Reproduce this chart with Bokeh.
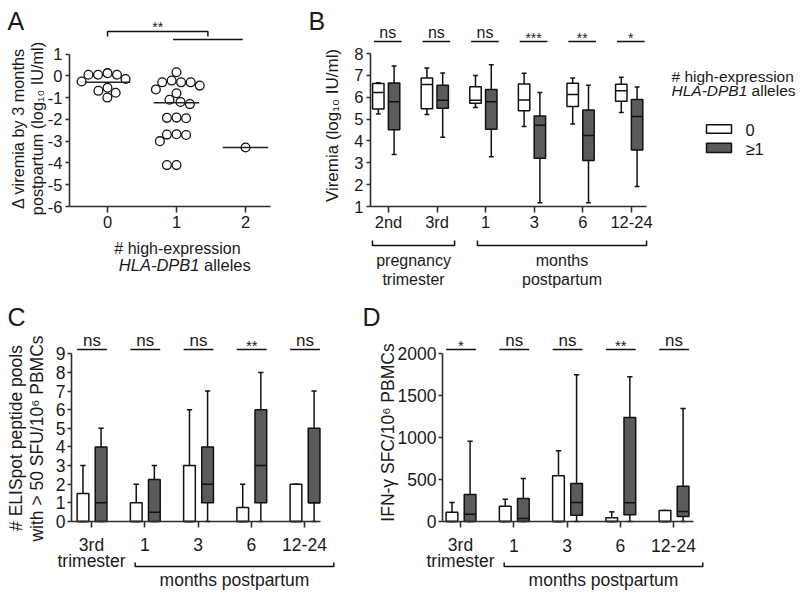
import math
from bokeh.plotting import figure
from bokeh.models import Range1d, LinearAxis, FixedTicker, ColumnDataSource
from bokeh.layouts import row, column
from bokeh.embed import file_html
from bokeh.resources import INLINE
from bokeh.core.properties import value

# ---------------- data ----------------
# Panel A: change in viremia by 3 months postpartum
A_groups = [0, 1, 2]
A_group_labels = ["0", "1", "2"]
A_vals_0 = [0.05, 0.05, -0.26, -0.69, -1.00, -0.78, -0.15, 0.05, 0.12, -0.55]
A_vals_1 = [0.16, -0.30, -0.30, -0.22, -0.30, -0.45, -0.63, -0.80, -1.20, -1.30,
            -1.10, -1.92, -1.95, -1.93, -2.68, -2.72, -3.00, -2.70, -4.10, -4.10]
A_vals_2 = [-3.29]
A_center = [-0.30, -1.24, -3.29]
A_yticks = [1, 0, -1, -2, -3, -4, -5, -6]
A_sig = "**"

# Panel B: viremia (log10 IU/ml)
B_cats = ["2nd", "3rd", "1", "3", "6", "12-24"]
B_sig = ["ns", "ns", "ns", "***", "**", "*"]
B0_min = [5.23, 5.21, 5.53, 4.66, 4.77, 5.30]
B0_q1 = [5.46, 5.47, 5.72, 5.38, 5.58, 5.81]
B0_med = [6.21, 6.58, 5.86, 5.87, 6.12, 6.30]
B0_q3 = [6.63, 6.88, 6.48, 6.61, 6.64, 6.59]
B0_max = [6.66, 7.34, 6.99, 7.10, 6.88, 6.91]
B1_min = [3.38, 4.17, 3.28, 1.17, 1.17, 1.92]
B1_q1 = [4.51, 5.49, 4.54, 3.21, 3.11, 3.59]
B1_med = [5.79, 5.86, 5.79, 4.72, 4.25, 5.12]
B1_q3 = [6.65, 6.55, 6.35, 5.14, 5.41, 5.89]
B1_max = [7.43, 7.11, 7.49, 6.21, 6.55, 6.47]
B_yticks = [1, 2, 3, 4, 5, 6, 7, 8]
legend_labels = ["0", "\u22651"]

# Panel C: ELISpot peptide pools
C_cats = ["3rd", "1", "3", "6", "12-24"]
C_sig = ["ns", "ns", "ns", "**", "ns"]
C0_min = [0, 0, 0, 0, 0]
C0_q1 = [0, 0, 0, 0, 0]
C0_med = [0, 0, 0, 0, 0]
C0_q3 = [1.5, 1, 3, 0.75, 2]
C0_max = [3, 2, 6, 2, 2]
C1_min = [0, 0, 0, 0, 0]
C1_q1 = [0, 0, 1, 1, 1]
C1_med = [1, 0.5, 2, 3, 1]
C1_q3 = [4, 2.25, 4, 6, 5]
C1_max = [5, 3, 7, 8, 7]
C_yticks = [0, 1, 2, 3, 4, 5, 6, 7, 8, 9]

# Panel D: IFN-gamma SFC
D_cats = ["3rd", "1", "3", "6", "12-24"]
D_sig = ["*", "ns", "ns", "**", "ns"]
D0_min = [0, 0, 0, 0, 0]
D0_q1 = [0, 0, 0, 0, 0]
D0_med = [0, 0, 0, 0, 0]
D0_q3 = [111, 183, 545, 44, 131]
D0_max = [227, 266, 843, 115, 131]
D1_min = [0, 0, 0, 0, 0]
D1_q1 = [0, 0, 76, 80, 60]
D1_med = [87, 36, 227, 223, 119]
D1_q3 = [322, 274, 453, 1240, 421]
D1_max = [958, 513, 1749, 1726, 1348]
D_yticks = [0, 500, 1000, 1500, 2000]

# ---------------- style ----------------
FONT = "Liberation Sans"
TXT = "#1a1a1a"
AX = "#2e2e2e"
DARK = "#5b5b5b"
TOP_FS = 16.0     # text size, upper panels
BOT_FS = 17.5     # text size, lower panels
LEG_FS = 15.5

CHAR_W = {'H': .722, 'L': .556, 'A': .667, '-': .333, 'D': .722, 'P': .667,
          'B': .667, '1': .556, ' ': .278}


def text_w(s, size):
    return sum(CHAR_W.get(c, .556) for c in s) * size


def lin_map(v0, p0, v1, p1):
    s = (v1 - v0) / (p1 - p0)
    return lambda p: v0 + (p - p0) * s


def panel(ox, oy, w, h, xanch, yanch):
    fx = lin_map(*xanch)
    fy = lin_map(*yanch)
    p = figure(width=w, height=h,
               x_range=Range1d(fx(ox), fx(ox + w)),
               y_range=Range1d(fy(oy + h), fy(oy)),
               x_axis_type=None, y_axis_type=None,
               toolbar_location=None, output_backend="svg",
               title=None, min_border=0)
    p.extra_x_ranges = {"px": Range1d(ox, ox + w)}
    p.extra_y_ranges = {"px": Range1d(oy + h, oy)}
    p.outline_line_color = None
    p.background_fill_color = "white"
    p.border_fill_color = "white"
    return p, fx, fy


def style_axis(ax, tick_out, standoff, fs):
    ax.axis_line_color = AX
    ax.axis_line_width = 1.6
    ax.major_tick_line_color = AX
    ax.major_tick_line_width = 1.6
    ax.major_tick_out = tick_out
    ax.major_tick_in = 0
    ax.minor_tick_line_color = None
    ax.major_label_text_font = FONT
    ax.major_label_text_font_size = "%gpx" % fs
    ax.major_label_text_color = TXT
    ax.major_label_standoff = standoff


def txt(p, x, y, s, size=TOP_FS, align="center", baseline="alphabetic", angle=0.0,
        style="normal", xr="px"):
    kw = dict(y_range_name="px")
    if xr == "px":
        kw["x_range_name"] = "px"
    if baseline == "alphabetic":
        y = y - 0.32 * size   # compensate renderer's baseline placement
    p.text(x=[x], y=[y], text=[s], text_font=value(FONT),
           text_font_size="%gpx" % size,
           text_align=align, text_baseline=baseline, angle=angle,
           text_color=TXT, text_font_style=style, **kw)


def add_axes(p, fx, yticks, ylabels, y_axis_px, x_end_px, xticks, xlabels,
             ystand, xlabel_base, fs):
    ylo, yhi = min(yticks), max(yticks)
    ya = LinearAxis(fixed_location=fx(y_axis_px), bounds=(ylo, yhi),
                    ticker=FixedTicker(ticks=yticks),
                    major_label_overrides={t: l for t, l in zip(yticks, ylabels)})
    style_axis(ya, 4, ystand, fs)
    p.add_layout(ya, "left")
    xa = LinearAxis(fixed_location=ylo, bounds=(fx(y_axis_px), fx(x_end_px)),
                    ticker=FixedTicker(ticks=xticks),
                    major_label_overrides={t: "" for t in xticks})
    style_axis(xa, 6, 2, fs)
    p.add_layout(xa, "below")
    # category labels, placed through the data scale under each tick
    for t, l in zip(xticks, xlabels):
        txt(p, t, xlabel_base, l, size=fs, xr="data")


def boxes(p, xs, mn, q1, med, q3, mx, fill, width, cap):
    src = ColumnDataSource(dict(
        x=xs, l=[x - width / 2 for x in xs], r=[x + width / 2 for x in xs],
        cl=[x - cap / 2 for x in xs], cr=[x + cap / 2 for x in xs],
        mn=mn, q1=q1, med=med, q3=q3, mx=mx))
    lk = dict(line_color="#111111", line_width=1.5)
    p.segment(x0="x", y0="q3", x1="x", y1="mx", source=src, **lk)
    p.segment(x0="x", y0="mn", x1="x", y1="q1", source=src, **lk)
    p.segment(x0="cl", y0="mx", x1="cr", y1="mx", source=src, **lk)
    p.segment(x0="cl", y0="mn", x1="cr", y1="mn", source=src, **lk)
    p.quad(left="l", right="r", bottom="q1", top="q3", source=src,
           fill_color=fill, **lk)
    p.segment(x0="l", y0="med", x1="r", y1="med", source=src, **lk)


def sig_marks(p, xs, labels, y_line, lpad, rpad, fs, star_fs):
    p.segment(x0=[x - lpad for x in xs], y0=[y_line] * len(xs),
              x1=[x + rpad for x in xs], y1=[y_line] * len(xs),
              y_range_name="px", line_color="#111111", line_width=1.5)
    for x, s in zip(xs, labels):
        xm = x + (rpad - lpad) / 2
        if set(s) == {"*"}:
            txt(p, xm, y_line + 0.5, s, size=star_fs, xr="data")
        else:
            txt(p, xm, y_line - 4, s, size=fs, xr="data")


def group_bracket(p, x0, x1, y, tick):
    p.multi_line(xs=[[x0, x0, x1, x1]], ys=[[y - tick, y, y, y - tick]],
                 y_range_name="px", line_color="#111111", line_width=1.5)


def swarm(vals, ypx, xpx, d=9.6):
    order = sorted(range(len(vals)), key=lambda i: -vals[i])
    placed = []
    offs = [0.0] * len(vals)
    for i in order:
        y = vals[i] * ypx
        cands = [0.0]
        for xo, yo in placed:
            dy = abs(y - yo)
            if dy < d:
                dx = math.sqrt(d * d - dy * dy)
                cands += [xo + dx, xo - dx]
        cands.sort(key=lambda c: (round(abs(c), 6), c))
        chosen = 0.0
        for c in cands:
            if all((c - xo) ** 2 + (y - yo) ** 2 >= d * d - 1e-6 for xo, yo in placed):
                chosen = c
                break
        placed.append((chosen, y))
        offs[i] = chosen
    return [o / xpx for o in offs]


# ---------------- Panel A ----------------
pA, fxA, fyA = panel(0, 0, 300, 292, (0, 107, 2, 245), (1, 53.5, -6, 206))
add_axes(pA, fxA, A_yticks, [str(t) for t in A_yticks], 69, 270,
         A_groups, A_group_labels, 3, 227, 16.5)
xpxA = 69.0
ypxA = 152.5 / 7
for g, vals in zip(A_groups, [A_vals_0, A_vals_1, A_vals_2]):
    offs = swarm(vals, ypxA, xpxA)
    pA.scatter(x=[g + o for o in offs], y=vals, size=8.8, fill_color="white",
               line_color="#111111", line_width=1.3)
pA.segment(x0=[g - 0.33 for g in A_groups], y0=A_center,
           x1=[g + 0.33 for g in A_groups], y1=A_center,
           line_color="#222222", line_width=1.5)
l2a, l2b = A_groups[1] - 0.05, A_groups[2] - 0.04
br_r = (l2a + l2b) / 2
group_bracket(pA, A_groups[0], br_r, 31, -5)
pA.segment(x0=[l2a], y0=[39], x1=[l2b], y1=[39], y_range_name="px",
           line_color="#111111", line_width=1.5)
txt(pA, (A_groups[0] + br_r) / 2, 31, A_sig, size=14, xr="data")
txt(pA, 7, 28, "A", size=25, align="left")
txt(pA, 17.5, 128, "\u0394 viremia by 3 months", size=16.3, baseline="middle",
    angle=math.pi / 2)
txt(pA, 36.5, 128, "postpartum (log\u2081\u2080 IU/ml)", size=16.3, baseline="middle",
    angle=math.pi / 2)
txt(pA, 177, 253, "# high-expression")
txt(pA, 199, 270, "HLA-DPB1", size=16.5, align="right", style="italic")
txt(pA, 203.5, 270, "alleles", size=16.5, align="left")

# ---------------- Panel B ----------------
pB, fxB, fyB = panel(300, 0, 500, 292, (0, 388, 5, 631), (8, 53, 1, 206))
B_x = list(range(len(B_cats)))
add_axes(pB, fxB, B_yticks, [str(t) for t in B_yticks], 370, 646,
         B_x, B_cats, 3, 227, 16.5)
boxes(pB, [x - 0.21 for x in B_x], B0_min, B0_q1, B0_med, B0_q3, B0_max,
      "white", 0.235, 0.1)
boxes(pB, [x + 0.115 for x in B_x], B1_min, B1_q1, B1_med, B1_q3, B1_max,
      DARK, 0.235, 0.1)
sig_marks(pB, B_x, B_sig, 41, 0.3, 0.27, 16, 14)
group_bracket(pB, B_x[0] - 0.33, B_x[1] + 0.36, 245, 5)
group_bracket(pB, B_x[2] - 0.17, B_x[5] + 0.31, 245, 5)
mid_preg = (B_x[0] - 0.33 + B_x[1] + 0.36) / 2
mid_months = (B_x[2] - 0.17 + B_x[5] + 0.31) / 2
txt(pB, mid_preg, 265, "pregnancy", xr="data")
txt(pB, mid_preg, 284, "trimester", xr="data")
txt(pB, mid_months, 265, "months", xr="data")
txt(pB, mid_months, 284, "postpartum", xr="data")
txt(pB, 308, 28, "B", size=25, align="left")
txt(pB, 331.5, 125, "Viremia (log\u2081\u2080 IU/ml)", size=17, baseline="middle",
    angle=math.pi / 2)
# legend
txt(pB, 671, 81, "# high-expression", size=LEG_FS, align="left")
txt(pB, 671, 95, "HLA-DPB1", size=LEG_FS, align="left", style="italic")
txt(pB, 671 + text_w("HLA-DPB1 ", LEG_FS), 95, "alleles", size=LEG_FS, align="left")
pB.quad(left=[706, 706], right=[731, 731], top=[124.3, 142.7], bottom=[132.7, 152],
        fill_color=["white", DARK], line_color="#111111", line_width=1.5,
        x_range_name="px", y_range_name="px")
txt(pB, 745, 129, legend_labels[0], size=16.5, align="left", baseline="middle")
txt(pB, 745, 148, legend_labels[1], size=16.5, align="left", baseline="middle")

# ---------------- Panel C ----------------
pC, fxC, fyC = panel(0, 292, 352, 300, (0, 91, 4, 304), (9, 353.3, 0, 521))
C_x = list(range(len(C_cats)))
add_axes(pC, fxC, C_yticks, [str(t) for t in C_yticks], 71, 320,
         C_x, C_cats, 2, 550, BOT_FS)
boxes(pC, [x - 0.16 for x in C_x], C0_min, C0_q1, C0_med, C0_q3, C0_max,
      "white", 0.22, 0.1)
boxes(pC, [x + 0.18 for x in C_x], C1_min, C1_q1, C1_med, C1_q3, C1_max,
      DARK, 0.22, 0.1)
sig_marks(pC, C_x, C_sig, 349, 0.27, 0.29, 17, 15)
txt(pC, C_x[0], 566, "trimester", size=BOT_FS, xr="data")
group_bracket(pC, C_x[1] - 0.18, C_x[4] + 0.55, 566, 4)
txt(pC, (C_x[1] - 0.18 + C_x[4] + 0.55) / 2, 585, "months postpartum", size=BOT_FS,
    xr="data")
txt(pC, 7, 324, "C", size=25, align="left")
txt(pC, 15, 437.5, "# ELISpot peptide pools", size=BOT_FS, baseline="middle",
    angle=math.pi / 2)
txt(pC, 36, 438, "with > 50 SFU/10\u2076 PBMCs", size=BOT_FS, baseline="middle",
    angle=math.pi / 2)

# ---------------- Panel D ----------------
pD, fxD, fyD = panel(352, 292, 448, 300, (0, 460, 4, 673), (2000, 353.3, 0, 521))
D_x = list(range(len(D_cats)))
add_axes(pD, fxD, D_yticks, [str(t) for t in D_yticks], 442, 693,
         D_x, D_cats, 2, 550.5, BOT_FS)
boxes(pD, [x - 0.16 for x in D_x], D0_min, D0_q1, D0_med, D0_q3, D0_max,
      "white", 0.22, 0.1)
boxes(pD, [x + 0.18 for x in D_x], D1_min, D1_q1, D1_med, D1_q3, D1_max,
      DARK, 0.22, 0.1)
sig_marks(pD, D_x, D_sig, 349, 0.27, 0.29, 17, 15)
txt(pD, D_x[0], 566, "trimester", size=BOT_FS, xr="data")
group_bracket(pD, D_x[1] - 0.18, D_x[4] + 0.55, 566, 4)
txt(pD, (D_x[1] - 0.18 + D_x[4] + 0.55) / 2, 585, "months postpartum", size=BOT_FS,
    xr="data")
txt(pD, 362, 324, "D", size=25, align="left")
txt(pD, 387, 432, "IFN-\u03b3 SFC/10\u2076 PBMCs", size=BOT_FS, baseline="middle",
    angle=math.pi / 2)

layout = column(row(pA, pB), row(pC, pD))
open("out.html", "w").write(file_html(layout, INLINE))
